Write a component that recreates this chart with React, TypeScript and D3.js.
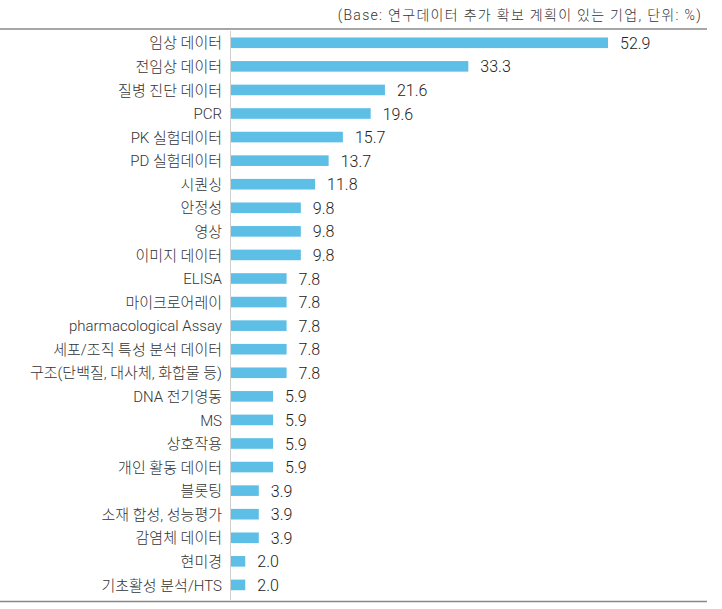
import React from "react";
import * as d3 from "d3";

const categories = [
  "임상 데이터",
  "전임상 데이터",
  "질병 진단 데이터",
  "PCR",
  "PK 실험데이터",
  "PD 실험데이터",
  "시퀀싱",
  "안정성",
  "영상",
  "이미지 데이터",
  "ELISA",
  "마이크로어레이",
  "pharmacological Assay",
  "세포/조직 특성 분석 데이터",
  "구조(단백질, 대사체, 화합물 등)",
  "DNA 전기영동",
  "MS",
  "상호작용",
  "개인 활동 데이터",
  "블롯팅",
  "소재 합성, 성능평가",
  "감염체 데이터",
  "현미경",
  "기초활성 분석/HTS",
];
const values = [52.9, 33.3, 21.6, 19.6, 15.7, 13.7, 11.8, 9.8, 9.8, 9.8, 7.8, 7.8, 7.8, 7.8, 7.8, 5.9, 5.9, 5.9, 5.9, 3.9, 3.9, 3.9, 2.0, 2.0];
const note = "(Base: 연구데이터 추가 확보 계획이 있는 기업, 단위: %)";

export default function App() {
  const W = 722, H = 609;
  const x0 = 231;
  const x = d3.scaleLinear().domain([0, 52.9]).range([x0, 608]);
  const y = d3.scaleBand<string>().domain(categories).range([31, 596.7]).paddingInner(0.55).paddingOuter(0.275);
  const font = "Roboto, 'Noto Sans CJK KR', sans-serif";
  return (
    <svg width={W} height={H} style={{ position: "absolute", left: 0, top: 0 }}>
      <rect width={W} height={H} fill="#fff" />
      <text x={702} y={20} textAnchor="end" fontFamily={font} fontSize={14} fontWeight={300} fill="#333" letterSpacing={1.3}>{note}</text>
      <line x1={0} x2={707} y1={29} y2={29} stroke="#888" strokeWidth={1.5} />
      <line x1={0} x2={707} y1={601.5} y2={601.5} stroke="#888" strokeWidth={1.5} />
      <line x1={x0 - 0.5} x2={x0 - 0.5} y1={31} y2={600} stroke="#d0d0d0" strokeWidth={1} />
      {categories.map((c, i) => {
        const yy = y(c)!;
        const bw = y.bandwidth();
        const cy = yy + bw / 2;
        return (
          <g key={c}>
            <rect x={x0} y={yy} width={x(values[i]) - x0} height={bw} fill="#5dbfe6" />
            <text x={222} y={cy} dy="0.38em" textAnchor="end" fontFamily={font} fontSize={15} fontWeight={300} fill="#333">{c}</text>
            <text x={x(values[i]) + 12} y={cy} dy="0.38em" fontFamily={font} fontSize={16} fontWeight={300} fill="#222">{values[i].toFixed(1)}</text>
          </g>
        );
      })}
    </svg>
  );
}
